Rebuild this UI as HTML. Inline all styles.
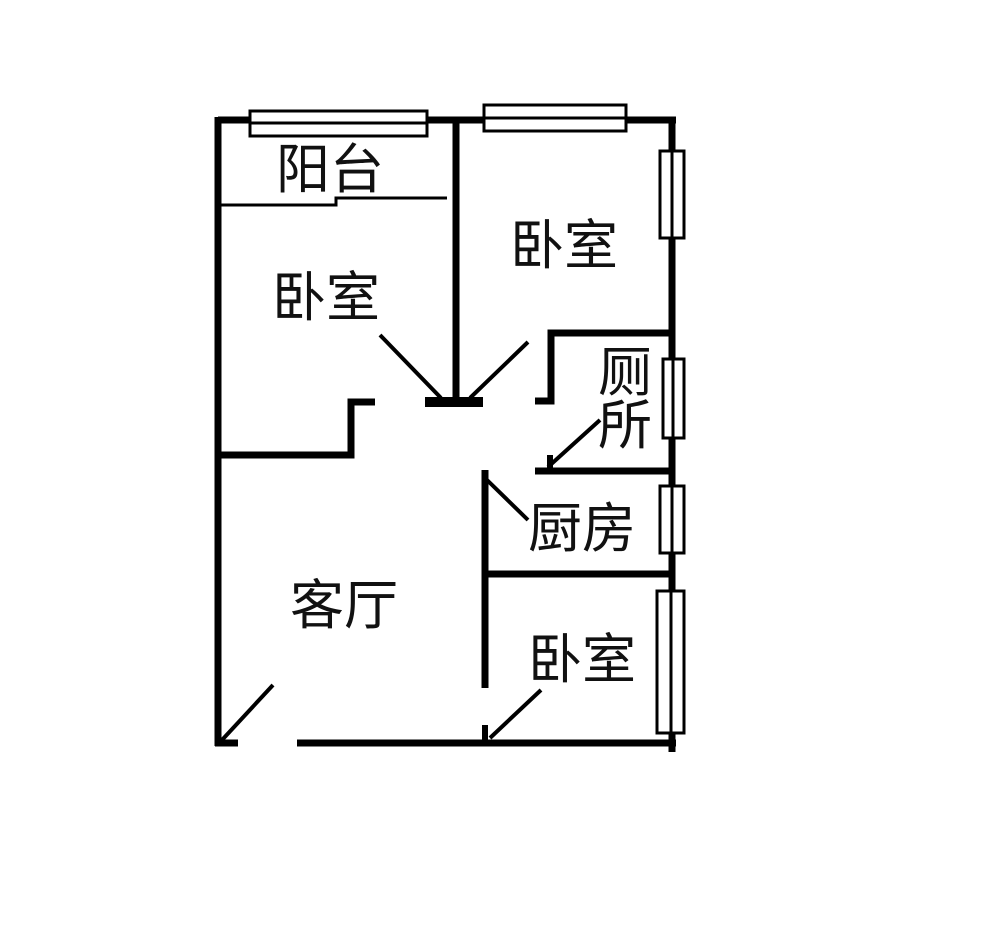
<!DOCTYPE html>
<html><head><meta charset="utf-8"><style>
html,body{margin:0;padding:0;background:#fff;}
svg{display:block;}
text{font-family:"Liberation Sans","Noto Sans CJK SC",sans-serif;font-size:54px;fill:#111;}
</style></head><body>
<svg width="1000" height="936" viewBox="0 0 1000 936" xmlns="http://www.w3.org/2000/svg">
<g stroke="#000" stroke-linecap="butt" fill="none">
<line x1="218" y1="120" x2="676" y2="120" stroke-width="7"/>
<line x1="218" y1="117" x2="218" y2="746" stroke-width="7"/>
<line x1="672" y1="117" x2="672" y2="752" stroke-width="7"/>
<line x1="297" y1="743" x2="676" y2="743" stroke-width="7"/>
<line x1="215" y1="743" x2="238" y2="743" stroke-width="7"/>
<line x1="456" y1="120" x2="456" y2="402" stroke-width="7"/>
<line x1="425" y1="402" x2="483" y2="402" stroke-width="10"/>
<polyline points="218,205 336,205 336,198 447,198" stroke-width="3"/>
<polyline points="218,455 351,455 351,402 375,402" stroke-width="7"/>
<line x1="380" y1="335" x2="441" y2="398" stroke-width="4"/>
<line x1="528" y1="342" x2="470" y2="398" stroke-width="4"/>
<polyline points="535,401 551,401 551,333 672,333" stroke-width="7"/>
<line x1="535" y1="471" x2="672" y2="471" stroke-width="7"/>
<line x1="600" y1="420" x2="548" y2="467" stroke-width="4"/>
<line x1="550" y1="455" x2="550" y2="471" stroke-width="6"/>
<line x1="485" y1="470" x2="485" y2="688" stroke-width="7"/>
<line x1="487" y1="480" x2="528" y2="520" stroke-width="4"/>
<line x1="485" y1="574" x2="672" y2="574" stroke-width="7"/>
<line x1="273" y1="685" x2="222" y2="740" stroke-width="4"/>
<line x1="541" y1="690" x2="490" y2="738" stroke-width="4"/>
<line x1="485" y1="725" x2="485" y2="743" stroke-width="6"/>
</g>
<g fill="#fff" stroke="#000" stroke-width="3">
<rect x="250" y="111" width="177" height="25"/>
<line x1="250" y1="123" x2="427" y2="123"/>
<rect x="484" y="105" width="142" height="26"/>
<line x1="484" y1="118" x2="626" y2="118"/>
<rect x="660" y="151" width="24" height="87"/>
<line x1="672" y1="151" x2="672" y2="238"/>
<rect x="663" y="359" width="21" height="79"/>
<line x1="673" y1="359" x2="673" y2="438"/>
<rect x="660" y="486" width="24" height="67"/>
<line x1="672" y1="486" x2="672" y2="553"/>
<rect x="657" y="591" width="27" height="142"/>
<line x1="671" y1="591" x2="671" y2="733"/>
</g>
<text x="276" y="188">阳台</text>
<text x="510" y="264">卧室</text>
<text x="272" y="316">卧室</text>
<text x="598" y="391">厕</text>
<text x="598" y="444">所</text>
<text x="528" y="547">厨房</text>
<text x="290" y="624">客厅</text>
<text x="528" y="678">卧室</text>
</svg>
</body></html>
